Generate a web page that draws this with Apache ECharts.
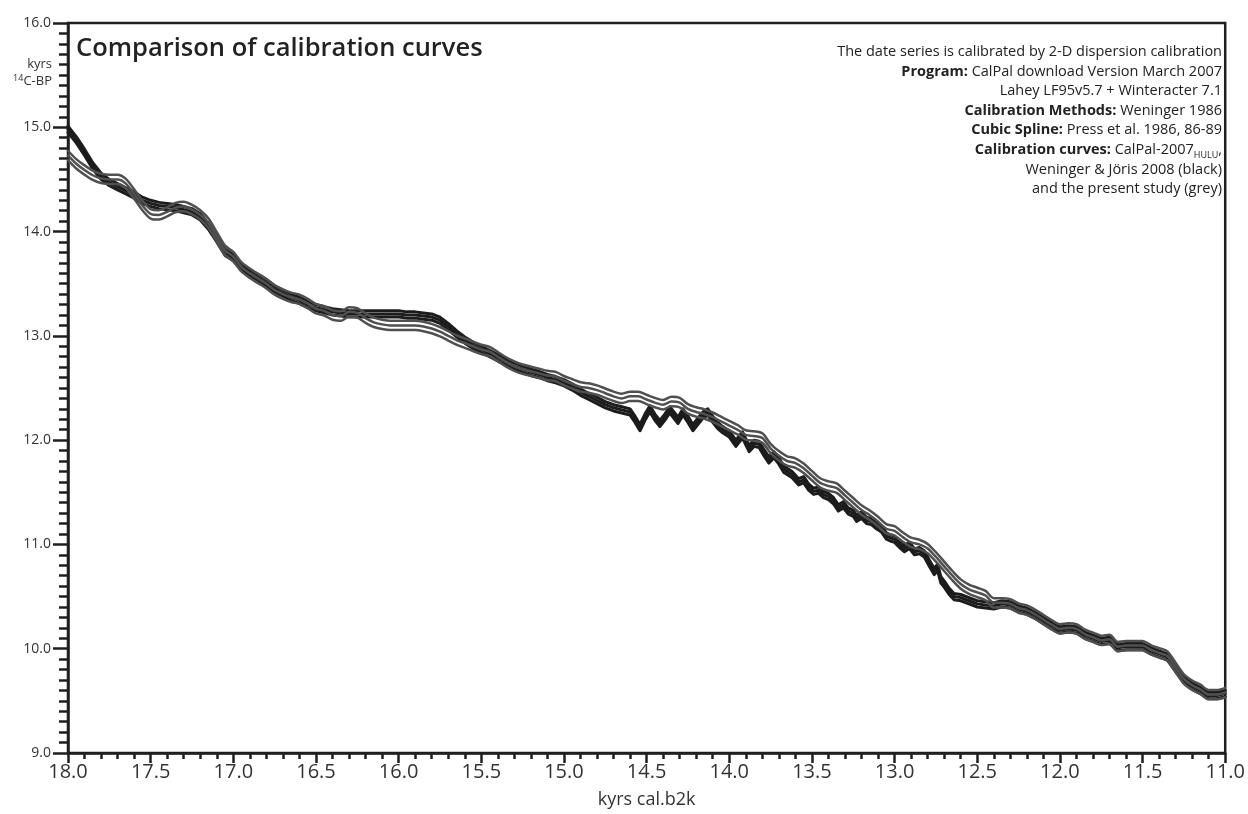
<!DOCTYPE html>
<html>
<head>
<meta charset="utf-8">
<script src="https://cdn.jsdelivr.net/npm/echarts@6/dist/echarts.min.js"></script>
<style>
  html, body { margin: 0; padding: 0; background: #ffffff; }
  #chart { width: 1248px; height: 814px; }
</style>
</head>
<body>
<div id="chart"></div>
<script>
// Calibration curve of Weninger & Jöris 2008 (black): cal. age (kyrs b2k) -> 14C age (kyrs BP)
const blackYears = [
  18.00, 17.95, 17.90, 17.85, 17.80, 17.75, 17.70, 17.65, 17.60, 17.55,
  17.50, 17.45, 17.40, 17.35, 17.30, 17.25, 17.20, 17.15, 17.10, 17.05,
  17.00, 16.95, 16.90, 16.85, 16.80, 16.75, 16.70, 16.65, 16.60, 16.55,
  16.50, 16.45, 16.40, 16.35, 16.30, 16.25, 16.20, 16.15, 16.10, 16.05,
  16.00, 15.95, 15.90, 15.85, 15.80, 15.75, 15.70, 15.65, 15.60, 15.55,
  15.50, 15.45, 15.40, 15.35, 15.30, 15.25, 15.20, 15.15, 15.10, 15.05,
  15.00, 14.95, 14.90, 14.85, 14.80, 14.75, 14.70, 14.65, 14.60, 14.57,
  14.54, 14.51, 14.48, 14.45, 14.42, 14.39, 14.36, 14.33, 14.31, 14.28,
  14.25, 14.22, 14.19, 14.16, 14.13, 14.10, 14.07, 14.04, 14.00, 13.96,
  13.92, 13.88, 13.85, 13.82, 13.79, 13.76, 13.73, 13.70, 13.67, 13.65,
  13.62, 13.58, 13.55, 13.52, 13.49, 13.46, 13.43, 13.40, 13.37, 13.34,
  13.31, 13.28, 13.25, 13.23, 13.20, 13.17, 13.14, 13.11, 13.08, 13.05,
  13.02, 13.00, 12.97, 12.94, 12.91, 12.88, 12.85, 12.82, 12.79, 12.76,
  12.74, 12.72, 12.70, 12.67, 12.64, 12.60, 12.55, 12.50, 12.45, 12.40,
  12.35, 12.30, 12.25, 12.20, 12.15, 12.10, 12.05, 12.00, 11.95, 11.90,
  11.85, 11.80, 11.75, 11.70, 11.65, 11.60, 11.55, 11.50, 11.45, 11.40,
  11.35, 11.30, 11.25, 11.20, 11.15, 11.10, 11.05, 11.00
];
const blackMid = [
  14.98, 14.88, 14.76, 14.63, 14.53, 14.47, 14.43, 14.39, 14.35, 14.30,
  14.27, 14.25, 14.24, 14.23, 14.21, 14.19, 14.14, 14.05, 13.93, 13.80,
  13.75, 13.66, 13.60, 13.56, 13.51, 13.45, 13.41, 13.37, 13.34, 13.30,
  13.27, 13.25, 13.23, 13.22, 13.21, 13.21, 13.21, 13.21, 13.21, 13.21,
  13.21, 13.20, 13.20, 13.19, 13.18, 13.15, 13.09, 13.02, 12.96, 12.91,
  12.87, 12.83, 12.79, 12.75, 12.71, 12.68, 12.65, 12.63, 12.60, 12.58,
  12.55, 12.51, 12.46, 12.42, 12.38, 12.34, 12.31, 12.29, 12.27, 12.20,
  12.12, 12.22, 12.30, 12.22, 12.16, 12.22, 12.29, 12.23, 12.19, 12.27,
  12.20, 12.12, 12.18, 12.24, 12.27, 12.20, 12.14, 12.10, 12.06, 11.97,
  12.05, 11.92, 11.97, 11.96, 11.88, 11.81, 11.86, 11.80, 11.72, 11.70,
  11.67, 11.60, 11.62, 11.55, 11.51, 11.52, 11.48, 11.46, 11.42, 11.35,
  11.38, 11.32, 11.30, 11.25, 11.28, 11.23, 11.22, 11.18, 11.15, 11.08,
  11.06, 11.05, 11.00, 10.96, 10.99, 10.93, 10.94, 10.91, 10.82, 10.74,
  10.78, 10.66, 10.62, 10.55, 10.50, 10.49, 10.46, 10.43, 10.42, 10.41,
  10.43, 10.42, 10.38, 10.36, 10.32, 10.27, 10.22, 10.18, 10.19, 10.18,
  10.13, 10.10, 10.07, 10.08, 10.01, 10.02, 10.02, 10.02, 9.98, 9.95,
  9.92, 9.81, 9.70, 9.64, 9.60, 9.55, 9.55, 9.57
];
const blackSigma = 0.03;

// Curve of the present study (grey)
const greyYears = [
  18.00, 17.95, 17.90, 17.85, 17.80, 17.75, 17.70, 17.65, 17.60, 17.55,
  17.50, 17.45, 17.40, 17.35, 17.30, 17.25, 17.20, 17.15, 17.10, 17.05,
  17.00, 16.95, 16.90, 16.85, 16.80, 16.75, 16.70, 16.65, 16.60, 16.55,
  16.50, 16.45, 16.40, 16.35, 16.30, 16.25, 16.20, 16.15, 16.10, 16.05,
  16.00, 15.95, 15.90, 15.85, 15.80, 15.75, 15.70, 15.65, 15.60, 15.55,
  15.50, 15.45, 15.40, 15.35, 15.30, 15.25, 15.20, 15.15, 15.10, 15.05,
  15.00, 14.95, 14.90, 14.85, 14.80, 14.75, 14.70, 14.65, 14.60, 14.55,
  14.50, 14.45, 14.40, 14.35, 14.30, 14.25, 14.20, 14.15, 14.10, 14.05,
  14.00, 13.95, 13.90, 13.85, 13.80, 13.75, 13.70, 13.65, 13.60, 13.55,
  13.50, 13.45, 13.40, 13.35, 13.30, 13.25, 13.20, 13.15, 13.10, 13.05,
  13.00, 12.95, 12.90, 12.85, 12.80, 12.75, 12.70, 12.65, 12.60, 12.55,
  12.50, 12.45, 12.40, 12.35, 12.30, 12.25, 12.20, 12.15, 12.10, 12.05,
  12.00, 11.95, 11.90, 11.85, 11.80, 11.75, 11.70, 11.65, 11.60, 11.55,
  11.50, 11.45, 11.40, 11.35, 11.30, 11.25, 11.20, 11.15, 11.10, 11.05,
  11.00
];
const greyMid = [
  14.73, 14.65, 14.59, 14.54, 14.51, 14.50, 14.50, 14.46, 14.36, 14.25,
  14.17, 14.16, 14.19, 14.23, 14.24, 14.21, 14.16, 14.08, 13.95, 13.82,
  13.76, 13.66, 13.60, 13.55, 13.50, 13.44, 13.40, 13.37, 13.35, 13.31,
  13.26, 13.24, 13.20, 13.19, 13.23, 13.22, 13.17, 13.13, 13.11, 13.10,
  13.10, 13.10, 13.10, 13.09, 13.07, 13.04, 13.00, 12.96, 12.93, 12.90,
  12.87, 12.85, 12.80, 12.75, 12.71, 12.68, 12.66, 12.64, 12.62, 12.61,
  12.57, 12.54, 12.51, 12.50, 12.48, 12.45, 12.42, 12.40, 12.42, 12.42,
  12.39, 12.36, 12.34, 12.37, 12.36, 12.30, 12.27, 12.25, 12.22, 12.18,
  12.14, 12.10, 12.05, 12.04, 12.02, 11.92, 11.85, 11.80, 11.78, 11.73,
  11.66, 11.59, 11.56, 11.54, 11.47, 11.40, 11.33, 11.28, 11.22, 11.15,
  11.13, 11.07, 11.02, 11.00, 10.96, 10.88, 10.79, 10.70, 10.62, 10.57,
  10.54, 10.51, 10.44, 10.44, 10.43, 10.39, 10.37, 10.33, 10.28, 10.23,
  10.19, 10.20, 10.19, 10.14, 10.11, 10.08, 10.09, 10.02, 10.03, 10.03,
  10.03, 9.99, 9.96, 9.93, 9.82, 9.71, 9.65, 9.61, 9.56, 9.56,
  9.58
];
const greySigma = 0.045;

// Axis ranges and tick spacing
const xRange = [11, 18];
const yRange = [9, 16];

const FONT = '"Open Sans", "DejaVu Sans", sans-serif';

function pairs(years, values, offset) {
  return years.map((yr, i) => [yr, +(values[i] + offset).toFixed(3)]);
}

// Each curve is drawn as mean and ±1 sigma lines
function band(name, years, mid, sigma, color, width, smooth, z) {
  return [-sigma, 0, sigma].map((off, k) => ({
    name: name + '_' + k,
    type: 'line',
    data: pairs(years, mid, off),
    showSymbol: false,
    symbol: 'none',
    smooth: smooth,
    z: z,
    silent: true,
    lineStyle: { color: color, width: width, join: 'round', cap: 'round' }
  }));
}

const chart = echarts.init(document.getElementById('chart'), null, { renderer: 'canvas' });

const option = {
  animation: false,
  backgroundColor: '#ffffff',
  grid: {
    left: 68, right: 16, top: 23, bottom: 56,
    show: true, borderColor: '#1f1f1f', borderWidth: 2.5, backgroundColor: 'transparent'
  },
  xAxis: {
    type: 'value',
    inverse: true,
    min: xRange[0], max: xRange[1], interval: 0.5,
    name: 'kyrs cal.b2k',
    nameLocation: 'middle',
    nameGap: 38,
    nameTextStyle: { fontFamily: FONT, fontSize: 18, color: '#333' },
    axisLine: { show: true, onZero: false, lineStyle: { color: '#1f1f1f', width: 2.5 } },
    axisTick: { show: true, inside: false, length: 10, lineStyle: { color: '#1f1f1f', width: 2.5 } },
    minorTick: { show: true, splitNumber: 5, length: 6, lineStyle: { color: '#1f1f1f', width: 2.5 } },
    axisLabel: { fontFamily: FONT, fontSize: 20, color: '#333', margin: 9,
                 formatter: v => v.toFixed(1) },
    splitLine: { show: false }
  },
  yAxis: {
    type: 'value',
    min: yRange[0], max: yRange[1], interval: 1,
    axisLine: { show: true, onZero: false, lineStyle: { color: '#1f1f1f', width: 2.5 } },
    axisTick: { show: true, inside: false, length: 15, lineStyle: { color: '#1f1f1f', width: 2.5 } },
    minorTick: { show: true, splitNumber: 10, length: 9, lineStyle: { color: '#1f1f1f', width: 2.5 } },
    axisLabel: { fontFamily: FONT, fontSize: 14, color: '#333', margin: 17,
                 formatter: v => v.toFixed(1) },
    splitLine: { show: false }
  },
  graphic: [
    {
      type: 'text', left: 76, top: 36, z: 100,
      style: { text: 'Comparison of calibration curves', font: '600 25.5px ' + FONT, fill: '#222' }
    },
    {
      type: 'text', x: 52, y: 64, z: 100,
      style: { text: 'kyrs', font: '13px ' + FONT, fill: '#333', align: 'right', verticalAlign: 'middle' }
    },
    {
      type: 'text', x: 52, y: 81, z: 100,
      style: {
        text: '{sup|14}{n|C-BP}',
        align: 'right', verticalAlign: 'middle',
        rich: {
          sup: { fontFamily: FONT, fontSize: 9, fill: '#333', verticalAlign: 'top', padding: [0, 0, 5, 0] },
          n: { fontFamily: FONT, fontSize: 13, fill: '#333' }
        }
      }
    },
    {
      type: 'text', x: 1222, y: 42, z: 100,
      style: {
        text: [
          '{r|The date series is calibrated by 2-D dispersion calibration}',
          '{b|Program:}{r| CalPal download Version March 2007}',
          '{r|Lahey LF95v5.7 + Winteracter 7.1}',
          '{b|Calibration Methods:}{r| Weninger 1986}',
          '{b|Cubic Spline:}{r| Press et al. 1986, 86-89}',
          '{b|Calibration curves:}{r| CalPal-2007}{sub|HULU}{r|,}',
          '{r|Weninger & Jöris 2008 (black)}',
          '{r|and the present study (grey)}'
        ].join('\n'),
        align: 'right', verticalAlign: 'top',
        rich: {
          r: { fontFamily: FONT, fontSize: 14.5, fill: '#222', lineHeight: 19.6 },
          b: { fontFamily: FONT, fontSize: 14.5, fontWeight: 'bold', fill: '#222', lineHeight: 19.6 },
          sub: { fontFamily: FONT, fontSize: 9, fill: '#222', lineHeight: 19.6, verticalAlign: 'bottom', padding: [7, 0, 0, 0] }
        }
      }
    }
  ],
  series: [].concat(
    band('black', blackYears, blackMid, blackSigma, '#1c1c1c', 3, false, 2),
    band('grey', greyYears, greyMid, greySigma, '#505050', 2.5, 0.3, 3)
  )
};

chart.setOption(option);
</script>
</body>
</html>
